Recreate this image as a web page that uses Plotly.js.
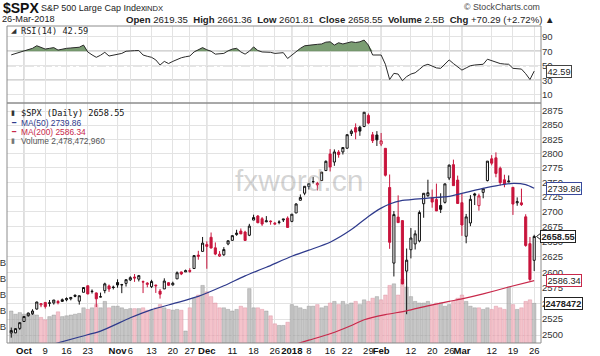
<!DOCTYPE html>
<html><head><meta charset="utf-8">
<script src="https://cdn.plot.ly/plotly-3.0.1.min.js"></script>
<style>html,body{margin:0;padding:0;background:#fff}#chart{width:600px;height:356px}</style>
</head><body><div id="chart"></div>
<script>
// ---------------- DATA ----------------
const dates = ['2017-09-27','2017-09-28','2017-09-29',
'2017-10-02','2017-10-03','2017-10-04','2017-10-05','2017-10-06','2017-10-09','2017-10-10','2017-10-11','2017-10-12','2017-10-13','2017-10-16','2017-10-17','2017-10-18','2017-10-19','2017-10-20','2017-10-23','2017-10-24','2017-10-25','2017-10-26','2017-10-27','2017-10-30','2017-10-31',
'2017-11-01','2017-11-02','2017-11-03','2017-11-06','2017-11-07','2017-11-08','2017-11-09','2017-11-10','2017-11-13','2017-11-14','2017-11-15','2017-11-16','2017-11-17','2017-11-20','2017-11-21','2017-11-22','2017-11-24','2017-11-27','2017-11-28','2017-11-29','2017-11-30',
'2017-12-01','2017-12-04','2017-12-05','2017-12-06','2017-12-07','2017-12-08','2017-12-11','2017-12-12','2017-12-13','2017-12-14','2017-12-15','2017-12-18','2017-12-19','2017-12-20','2017-12-21','2017-12-22','2017-12-26','2017-12-27','2017-12-28','2017-12-29',
'2018-01-02','2018-01-03','2018-01-04','2018-01-05','2018-01-08','2018-01-09','2018-01-10','2018-01-11','2018-01-12','2018-01-16','2018-01-17','2018-01-18','2018-01-19','2018-01-22','2018-01-23','2018-01-24','2018-01-25','2018-01-26','2018-01-29','2018-01-30','2018-01-31',
'2018-02-01','2018-02-02','2018-02-05','2018-02-06','2018-02-07','2018-02-08','2018-02-09','2018-02-12','2018-02-13','2018-02-14','2018-02-15','2018-02-16','2018-02-20','2018-02-21','2018-02-22','2018-02-23','2018-02-26','2018-02-27','2018-02-28',
'2018-03-01','2018-03-02','2018-03-05','2018-03-06','2018-03-07','2018-03-08','2018-03-09','2018-03-12','2018-03-13','2018-03-14','2018-03-15','2018-03-16','2018-03-19','2018-03-20','2018-03-21','2018-03-22','2018-03-23','2018-03-26'];

const openP = [2503.30,2503.41,2510.42,
2521.20,2530.34,2533.48,2540.86,2547.44,2551.39,2549.99,2550.62,2552.88,2555.66,2555.57,2557.17,2562.87,2553.39,2567.56,2578.08,2568.66,2566.52,2560.08,2570.26,2577.75,2575.99,
2583.21,2579.46,2581.93,2587.47,2592.11,2588.71,2584.00,2580.18,2576.53,2577.75,2569.45,2572.95,2582.94,2579.49,2589.17,2600.31,2600.42,2602.66,2605.94,2627.82,2633.93,
2645.10,2657.19,2639.78,2626.24,2628.38,2646.21,2652.19,2661.73,2667.59,2665.87,2660.63,2685.92,2692.71,2688.18,2683.02,2684.22,2679.09,2682.10,2686.10,2689.15,
2683.73,2697.85,2719.31,2731.33,2742.67,2751.15,2745.55,2752.97,2770.18,2798.96,2784.99,2802.40,2802.60,2809.16,2835.05,2845.42,2846.24,2847.48,2867.23,2832.74,2832.41,
2816.45,2808.92,2741.06,2614.78,2690.95,2685.01,2601.78,2636.75,2646.27,2651.21,2713.46,2727.14,2722.99,2720.53,2710.42,2715.80,2757.37,2780.45,2753.78,
2715.22,2658.89,2681.06,2730.18,2710.18,2732.75,2752.91,2790.54,2792.31,2774.06,2754.27,2750.57,2741.38,2715.05,2714.99,2691.36,2646.71,2619.35];

const highP = [2511.75,2510.81,2519.44,
2529.23,2535.13,2540.53,2552.51,2549.41,2551.82,2555.23,2555.24,2555.33,2557.65,2559.47,2559.71,2564.11,2562.36,2575.44,2578.29,2572.18,2567.40,2567.07,2582.98,2580.03,2578.29,
2588.40,2581.11,2588.42,2593.38,2597.02,2595.47,2586.50,2583.81,2587.66,2579.66,2572.84,2590.09,2583.96,2584.64,2601.19,2600.94,2604.21,2606.41,2627.69,2634.89,2657.74,
2650.62,2665.19,2648.72,2634.41,2640.99,2651.65,2660.33,2669.72,2671.88,2668.09,2679.63,2694.97,2694.44,2691.01,2692.64,2685.35,2682.74,2685.64,2687.66,2692.12,
2695.89,2714.37,2729.29,2743.45,2748.51,2759.14,2750.80,2767.56,2787.85,2807.54,2807.04,2805.83,2810.33,2833.03,2842.24,2852.97,2848.56,2872.87,2870.62,2837.75,2839.26,
2835.96,2808.92,2763.39,2701.04,2727.67,2685.27,2638.67,2672.61,2668.84,2702.10,2731.51,2754.42,2737.60,2747.75,2731.26,2747.76,2780.64,2789.15,2761.52,
2730.89,2696.25,2728.09,2732.08,2730.60,2740.45,2786.57,2796.98,2801.90,2777.11,2763.03,2761.85,2741.38,2724.22,2739.14,2695.68,2657.67,2661.36];

const lowP = [2495.91,2502.93,2507.99,
2520.40,2528.85,2531.80,2540.02,2543.79,2541.60,2544.86,2547.95,2548.31,2552.09,2553.24,2554.69,2559.67,2547.92,2567.56,2564.33,2565.58,2544.00,2559.80,2565.94,2568.25,2572.15,
2574.92,2566.17,2576.77,2585.66,2584.35,2585.02,2566.33,2575.57,2574.48,2566.56,2557.45,2572.95,2577.62,2578.24,2589.17,2595.23,2600.42,2598.87,2605.44,2620.32,2633.93,
2605.52,2639.03,2627.73,2624.75,2626.53,2644.10,2651.47,2659.78,2662.85,2652.01,2659.14,2685.92,2680.74,2676.11,2682.40,2678.13,2677.96,2678.91,2682.69,2673.61,
2682.36,2697.77,2719.07,2727.92,2737.60,2747.86,2736.06,2752.78,2769.64,2768.64,2778.38,2792.56,2798.08,2808.12,2830.59,2824.81,2830.94,2846.18,2851.48,2818.27,2813.04,
2812.70,2759.97,2638.17,2593.07,2681.33,2580.56,2532.69,2622.45,2637.08,2648.87,2689.82,2725.11,2706.76,2701.29,2697.77,2713.74,2753.78,2744.22,2713.54,
2659.65,2647.32,2675.75,2711.26,2701.74,2722.65,2751.54,2779.26,2758.68,2744.38,2741.47,2749.97,2694.59,2710.05,2709.79,2641.59,2585.89,2601.81];

const closeP = [2507.04,2510.06,2519.36,
2529.12,2534.58,2537.74,2552.07,2549.33,2544.73,2550.64,2555.24,2550.93,2553.17,2557.64,2559.36,2561.26,2562.10,2575.21,2564.98,2569.13,2557.15,2560.40,2581.07,2572.83,2575.26,
2579.36,2579.85,2587.84,2591.13,2590.64,2594.38,2584.62,2582.30,2584.84,2578.87,2564.62,2585.64,2578.85,2582.14,2599.03,2597.08,2602.42,2601.42,2627.04,2626.07,2647.58,
2642.22,2639.44,2629.57,2629.27,2636.98,2651.50,2659.99,2664.11,2662.85,2652.01,2675.81,2690.16,2681.47,2679.25,2684.57,2683.34,2680.50,2682.62,2687.54,2673.61,
2695.81,2713.06,2723.99,2743.15,2747.71,2751.29,2748.23,2767.56,2786.24,2776.42,2802.56,2798.03,2810.30,2832.97,2839.13,2837.54,2839.25,2872.87,2853.53,2822.43,2823.81,
2821.98,2762.13,2648.94,2695.14,2681.66,2581.00,2619.55,2656.00,2662.94,2698.63,2731.20,2732.22,2716.26,2701.33,2703.96,2747.30,2779.60,2744.28,2713.83,
2677.67,2691.25,2720.94,2728.12,2726.80,2738.97,2786.57,2783.02,2765.31,2749.48,2747.33,2752.01,2712.92,2716.94,2711.93,2643.69,2588.26,2658.55];

const prevCloseBefore = 2496.84; // close of 2017-09-26

// Volume in billions of shares
const volumeB = [2.0,1.8,1.9,
1.8,1.8,1.8,1.75,1.6,1.45,1.65,1.75,1.95,1.65,1.7,1.75,1.8,1.85,2.2,2.1,2.2,2.4,2.2,2.6,2.2,2.3,
2.3,2.2,2.1,2.15,2.15,2.15,2.2,2.05,2.05,2.2,2.4,2.2,2.1,2.05,2.1,2.05,0.75,2.2,2.8,3.0,3.6,
3.2,2.9,2.5,2.2,2.2,2.1,2.0,2.1,2.3,2.2,3.4,2.2,2.2,2.1,2.0,1.7,1.2,1.1,1.1,1.3,
2.4,2.3,2.2,2.1,2.3,2.3,2.4,2.2,2.3,2.5,2.6,2.4,2.6,2.4,2.5,2.6,2.4,2.7,2.6,2.8,2.9,
2.7,3.0,3.6,3.7,3.0,4.0,3.5,2.9,2.6,2.5,2.5,2.6,2.4,2.5,2.5,2.3,2.4,2.6,2.8,
3.0,2.6,2.3,2.2,2.2,2.1,2.2,2.1,2.3,2.2,2.1,3.5,2.4,2.1,2.2,2.6,2.7,2.478];
const volumeLast = 2478472960;

const rsi14 = [65,67,68,
71,72.5,74,77.6,75,73,74,75,71.6,73,74,74.5,75,75.5,78.5,69,65,61.6,64.5,68.5,63.4,64.5,
65.5,67,70,70.7,70.8,71,64.8,63,61.6,58,51,56,53,56,59,61,62.4,63.4,69,72,75,
72,70,66,66,67,70.5,73,74,69,66,70,76,71,69,69,68.5,67,67.5,68,60,
65,69,74,77.5,78.5,79,79.5,80,82.5,83,78.5,81.7,80,81.5,83,82,83,85.4,78.5,64.8,64.8,
64.8,52,31,39.5,38.5,29.3,35,38.5,40.3,45,50,52,49,47,46.4,52,58,53,48,
44,47,50,51,51.5,52,59,57,55,53,52.3,52,46.4,46,45.4,39,31,42.59];

const ma50Dates = ['2017-10-11','2017-10-19','2017-10-26','2017-11-06','2017-11-13','2017-11-21','2017-11-29','2017-12-07','2017-12-14','2017-12-21','2018-01-02','2018-01-08','2018-01-16','2018-01-23','2018-01-29','2018-02-01','2018-02-05','2018-02-08','2018-02-16','2018-02-26','2018-03-01','2018-03-07','2018-03-13','2018-03-19','2018-03-22','2018-03-26'];
const ma50Vals = [2486,2497,2506,2527,2540,2551,2561,2578,2594,2608,2626,2636,2649,2670,2692,2706,2713,2719,2723,2726,2731,2738,2744,2748,2746,2739.86];

const ma200Dates = ['2018-01-02','2018-01-08','2018-01-16','2018-01-23','2018-01-26','2018-02-02','2018-02-09','2018-02-16','2018-02-26','2018-03-01','2018-03-08','2018-03-16','2018-03-26'];
const ma200Vals = [2484,2492,2502,2515,2524,2532,2538,2546,2553,2557,2565,2576,2586.34];

const tickDates = ['2017-10-02','2017-10-09','2017-10-16','2017-10-23','2017-11-01','2017-11-06','2017-11-13','2017-11-20','2017-11-27','2017-12-01','2017-12-11','2017-12-18','2017-12-26','2018-01-02','2018-01-08','2018-01-16','2018-01-22','2018-01-29','2018-02-01','2018-02-12','2018-02-20','2018-02-26','2018-03-01','2018-03-12','2018-03-19','2018-03-26'];
const tickLabels = ['Oct','9','16','23','Nov','6','13','20','27','Dec','11','18','26','2018','8','16','22','29','Feb','12','20','26','Mar','12','19','26'];
const monthLabels = ['Oct','Nov','Dec','2018','Feb','Mar'];

const priceTicks = [2500,2525,2550,2575,2600,2625,2650,2675,2700,2725,2750,2775,2800,2825,2850,2875];
const volTicks = [1,2,3,4,5];
const rsiTicks = [10,30,50,70,90];
const rsiLevels = {upper:70, mid:50, lower:30};

// ---------------- BUILD ----------------
const idx = dates.map((d,i)=>i);
const di = d => dates.indexOf(d);
const RED = '#c8143c', BLACK = '#111';
const upVsPrev = idx.map(i => closeP[i] >= (i===0 ? prevCloseBefore : closeP[i-1]));

function candleTrace(sel, color){
  const t = {type:'candlestick', x:[], open:[], high:[], low:[], close:[], xaxis:'x', yaxis:'y3',
    increasing:{line:{color:color,width:1}, fillcolor:'#ffffff'},
    decreasing:{line:{color:color,width:1}, fillcolor:color},
    whiskerwidth:0, hoverinfo:'skip', showlegend:false};
  idx.forEach(i=>{ if(sel(i)){ t.x.push(i); t.open.push(openP[i]); t.high.push(highP[i]); t.low.push(lowP[i]); t.close.push(closeP[i]); }});
  return t;
}

const volTrace = {type:'bar', x:idx, y:volumeB, xaxis:'x', yaxis:'y', width:0.82,
  marker:{color: idx.map(i=> upVsPrev[i] ? 'rgba(175,175,175,0.7)' : 'rgba(240,175,185,0.75)'),
          line:{color: idx.map(i=> upVsPrev[i] ? 'rgba(135,135,135,0.7)' : 'rgba(215,130,150,0.7)'), width:0.5}},
  hoverinfo:'skip', showlegend:false};

const ma50Trace = {type:'scatter', mode:'lines', x:ma50Dates.map(di), y:ma50Vals, xaxis:'x', yaxis:'y3',
  line:{color:'#2e3a8c', width:1.2, shape:'spline', smoothing:0.6}, hoverinfo:'skip'};
const ma200Trace = {type:'scatter', mode:'lines', x:ma200Dates.map(di), y:ma200Vals, xaxis:'x', yaxis:'y3',
  line:{color:'#c8284a', width:1.2, shape:'spline', smoothing:0.6}, hoverinfo:'skip'};

const rsiFillColor = 'rgba(100,140,90,0.85)';
const rsiBaseUp = {type:'scatter', mode:'lines', x:idx, y:idx.map(()=>rsiLevels.upper), xaxis:'x', yaxis:'y2', line:{width:0}, hoverinfo:'skip'};
const rsiUp = {type:'scatter', mode:'lines', x:idx, y:rsi14.map(v=>Math.max(v,rsiLevels.upper)), xaxis:'x', yaxis:'y2', line:{width:0}, fill:'tonexty', fillcolor:rsiFillColor, hoverinfo:'skip'};
const rsiBaseDn = {type:'scatter', mode:'lines', x:idx, y:idx.map(()=>rsiLevels.lower), xaxis:'x', yaxis:'y2', line:{width:0}, hoverinfo:'skip'};
const rsiDn = {type:'scatter', mode:'lines', x:idx, y:rsi14.map(v=>Math.min(v,rsiLevels.lower)), xaxis:'x', yaxis:'y2', line:{width:0}, fill:'tonexty', fillcolor:rsiFillColor, hoverinfo:'skip'};
const rsiLine = {type:'scatter', mode:'lines', x:idx, y:rsi14, xaxis:'x', yaxis:'y2', line:{color:'#2a2a2a', width:1}, hoverinfo:'skip'};

// pixel helpers for paper placement
const PL=7, PR=541, PT=26, PB=343;
const XR = [-1, 124.6];
const fx = px => (px-PL)/(PR-PL);
const fy = py => (PB-py)/(PB-PT);
const px2data = px => XR[0] + (px-PL)*(XR[1]-XR[0])/(PR-PL);
const split = fy(103);

const last = dates.length-1;
const chg = closeP[last]-closeP[last-1];
const chgPct = chg/closeP[last-1]*100;
const fmt = v => v.toFixed(2);

// value tags (box annotation + left-pointing arrow marker)
const tags = [
  {yaxis:'y2', val:rsi14[last], label:fmt(rsi14[last]), border:'#444', bold:false, left:546},
  {yaxis:'y3', val:ma50Vals[ma50Vals.length-1], label:fmt(ma50Vals[ma50Vals.length-1]), border:'#3a4a9c', bold:false, left:546},
  {yaxis:'y3', val:closeP[last], label:fmt(closeP[last]), border:'#222', bold:true, left:540},
  {yaxis:'y3', val:ma200Vals[ma200Vals.length-1], label:fmt(ma200Vals[ma200Vals.length-1]), border:'#c8284a', bold:false, left:546},
  {yaxis:'y', val:volumeB[last], label:String(Math.floor(volumeLast/1000)).slice(0,7), border:'#222', bold:true, left:544}
];
const tagArrows = tags.map(t => ({type:'scatter', mode:'markers', x:[px2data(t.left+1)], y:[t.val], xaxis:'x', yaxis:t.yaxis,
  cliponaxis:false, marker:{symbol:'triangle-left', size:9, color:'#fff', line:{color:t.border, width:1}}, hoverinfo:'skip'}));

const data = [volTrace, ma200Trace, ma50Trace,
  candleTrace(i=>upVsPrev[i], BLACK), candleTrace(i=>!upVsPrev[i], RED),
  rsiBaseUp, rsiUp, rsiBaseDn, rsiDn, rsiLine].concat(tagArrows);

const SANS = 'Liberation Sans, Arial, sans-serif';
const MONO = 'DejaVu Sans Mono, monospace';
const ann = [];
function txt(px, py, text, size, color, opts, family){
  ann.push(Object.assign({xref:'paper', yref:'paper', x:fx(px), y:fy(py), xanchor:'left', yanchor:'middle',
    text:text, showarrow:false, font:{size:size, color:color, family:family||SANS}}, opts||{}));
}
// header
txt(1, 8, '<b>$SPX</b>', 14, '#111');
txt(39, 8.5, 'S&P 500 Large Cap Index', 9.0, '#222');
txt(143, 9, 'INDX', 7.6, '#222');
txt(0, 19.5, '26-Mar-2018', 9.2, '#222');
txt(124, 19.5, '<b>Open</b> '+fmt(openP[last])+'  <b>High</b> '+fmt(highP[last])+'  <b>Low</b> '+fmt(lowP[last])+'  <b>Close</b> '+fmt(closeP[last])+'  <b>Volume</b> '+volumeB[last].toFixed(1)+'B  <b>Chg</b> +'+fmt(chg)+' (+'+chgPct.toFixed(2)+'%) ▲', 9.6, '#222');
txt(542, 7, '© StockCharts.com', 8.8, '#444', {xanchor:'right'});
// rsi legend
txt(9, 30.5, '◢', 7, '#333');
txt(19, 30.5, 'RSI(14) '+fmt(rsi14[last]), 8.6, '#222', null, MONO);
// main legend
txt(9, 113, '▮', 7, '#333');
txt(19, 113, '$SPX (Daily) '+fmt(closeP[last]), 8.6, '#111', null, MONO);
txt(9, 122.5, '━', 7, '#2e3a8c');
txt(19, 122.5, 'MA(50) '+fmt(ma50Vals[ma50Vals.length-1]), 8.4, '#2e3a8c');
txt(9, 131.5, '━', 7, '#c8284a');
txt(19, 131.5, 'MA(200) '+fmt(ma200Vals[ma200Vals.length-1]), 8.4, '#c8284a');
txt(9, 140.5, '▮', 7, '#777');
txt(19, 140.5, 'Volume '+volumeLast.toLocaleString('en-US'), 8.4, '#555');
// watermark
ann.push({xref:'paper', yref:'paper', x:fx(299), y:fy(180), text:'fxword.cn', showarrow:false,
  font:{size:30, color:'rgba(160,160,160,0.45)', family:SANS}});
tags.forEach(t=>{
  ann.push({xref:'paper', yref:t.yaxis, x:fx(t.left), y: t.yaxis==='y3' ? Math.log10(t.val) : t.val, xanchor:'left', yanchor:'middle',
    text: t.bold ? '<b>'+t.label+'</b>' : t.label, showarrow:false, bgcolor:'#fff', bordercolor:t.border, borderwidth:1, borderpad:0.5,
    font:{size:9.2, color:'#222', family:SANS}});
});

// shapes
const shapes = [];
monthLabels.forEach((m)=>{ const k = tickLabels.indexOf(m); const xi = di(tickDates[k]);
  shapes.push({type:'line', xref:'x', yref:'paper', x0:xi, x1:xi, y0:0, y1:1, line:{color:'#bdbdbd', width:1}, layer:'below'}); });
shapes.push({type:'line', xref:'paper', yref:'y2', x0:0, x1:1, y0:rsiLevels.upper, y1:rsiLevels.upper, line:{color:'#6a6a6a', width:1}, layer:'below'});
shapes.push({type:'line', xref:'paper', yref:'y2', x0:0, x1:1, y0:rsiLevels.lower, y1:rsiLevels.lower, line:{color:'#6a6a6a', width:1}, layer:'below'});
shapes.push({type:'line', xref:'paper', yref:'y2', x0:0, x1:1, y0:rsiLevels.mid, y1:rsiLevels.mid, line:{color:'#8a8a8a', width:1, dash:'dashdot'}, layer:'below'});
shapes.push({type:'rect', xref:'paper', yref:'paper', x0:0, x1:1, y0:0, y1:split, line:{color:'#8c8c8c', width:1}, fillcolor:'rgba(0,0,0,0)'});
shapes.push({type:'rect', xref:'paper', yref:'paper', x0:0, x1:1, y0:split, y1:1, line:{color:'#8c8c8c', width:1}, fillcolor:'rgba(0,0,0,0)'});

const axFont = {size:9.5, color:'#333', family:SANS};
const layout = {
  width:600, height:356, margin:{l:PL, r:600-PR, t:PT, b:356-PB, pad:0},
  paper_bgcolor:'#ffffff', plot_bgcolor:'#ffffff', showlegend:false, hovermode:false,
  font:{family:SANS, size:9.5, color:'#222'},
  xaxis:{anchor:'y', domain:[0,1], range:XR, tickmode:'array', tickvals:tickDates.map(di),
    ticktext:tickLabels.map(t=> monthLabels.includes(t) ? '<b>'+t+'</b>' : t), tickangle:0,
    rangeslider:{visible:false},
    showgrid:true, gridcolor:'#e3e3e3', gridwidth:1, zeroline:false, ticks:'', showline:false,
    tickfont:{size:9.5, color:'#111', family:SANS}, automargin:false, fixedrange:true},
  yaxis:{domain:[0,split], range:[0,15], side:'left', tickmode:'array', tickvals:volTicks, ticktext:volTicks.map(v=>v+'B'),
    showgrid:false, zeroline:false, ticks:'', showline:false, tickfont:axFont, automargin:false, fixedrange:true},
  yaxis3:{overlaying:'y', anchor:'x', side:'right', type:'log', range:[Math.log10(2487.6), Math.log10(2889.5)],
    tickmode:'array', tickvals:priceTicks, ticktext:priceTicks.map(String), showgrid:true, gridcolor:'#e3e3e3',
    zeroline:false, ticks:'', showline:false, tickfont:axFont, automargin:false, fixedrange:true},
  yaxis2:{domain:[split,1], anchor:'x', side:'right', range:[-1.4,104.8], tickmode:'array', tickvals:rsiTicks,
    showgrid:true, gridcolor:'#e3e3e3', zeroline:false, ticks:'', showline:false, tickfont:axFont, automargin:false, fixedrange:true},
  annotations: ann, shapes: shapes
};
Plotly.newPlot('chart', data, layout, {staticPlot:true, displayModeBar:false});
</script></body></html>
